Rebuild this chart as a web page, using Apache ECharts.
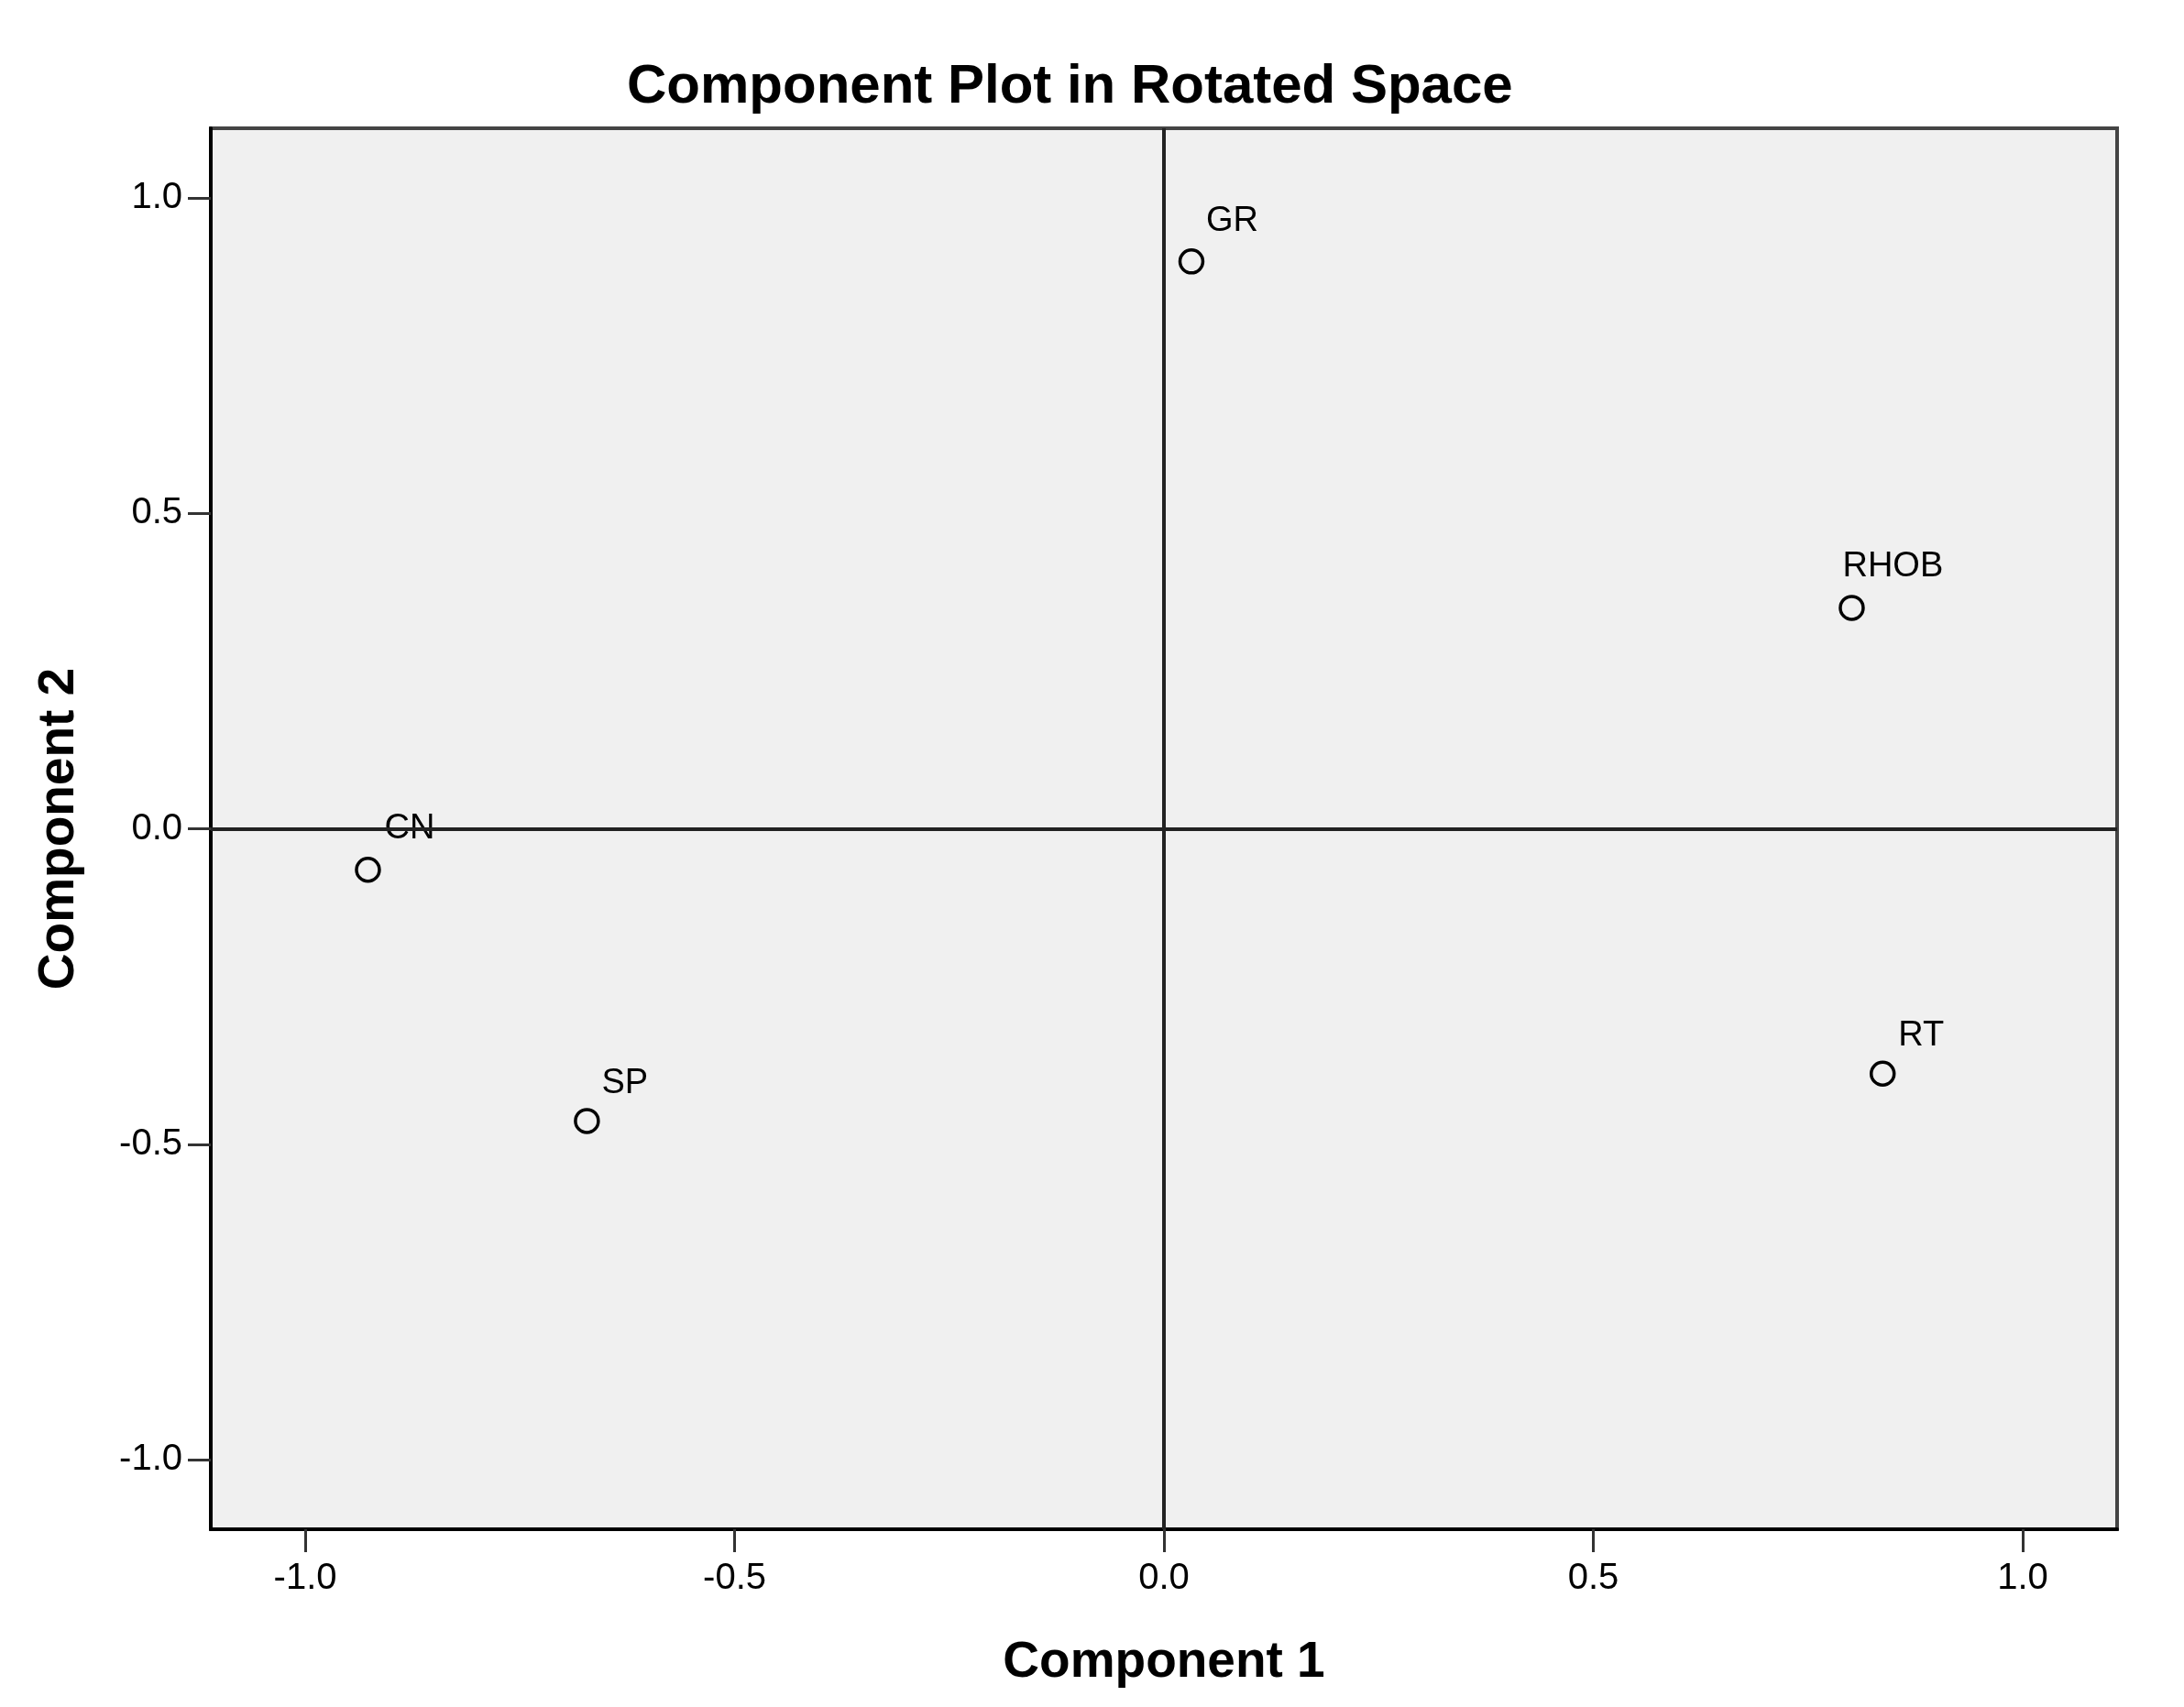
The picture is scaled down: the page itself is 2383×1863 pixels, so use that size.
<!DOCTYPE html>
<html>
<head>
<meta charset="utf-8">
<script src="https://cdn.jsdelivr.net/npm/echarts@6/dist/echarts.min.js"></script>
<style>
  html, body { margin: 0; padding: 0; background: #fff; }
  #main { width: 2383px; height: 1863px; }
</style>
</head>
<body>
<div id="main"></div>
<script>
// variables and their rotated loadings
var names = ['GR', 'RHOB', 'CN', 'SP', 'RT'];
var comp1 = [0.032, 0.801, -0.927, -0.672, 0.837];
var comp2 = [0.899, 0.350, -0.065, -0.463, -0.388];
var tickValues = [-1.0, -0.5, 0.0, 0.5, 1.0];

// label placement (RHOB sits a bit to the left in the original)
var labelOffsets = { GR: [16, -44], RHOB: [-10, -45], CN: [18, -45], SP: [16, -41], RT: [17, -41] };

var font = "'Liberation Sans', Arial, sans-serif";

var myChart = echarts.init(document.getElementById('main'));

var points = names.map(function (n, i) {
    return {
        name: n,
        value: [comp1[i], comp2[i]],
        label: { offset: labelOffsets[n] }
    };
});

var axisCommon = {
    type: 'value',
    min: -1.11,
    max: 1.11,
    nameLocation: 'middle',
    nameTextStyle: { fontFamily: font, fontSize: 55, fontWeight: 'bold', color: '#000' },
    axisLine: { show: true, onZero: false, lineStyle: { color: '#000', width: 4 } },
    axisTick: { show: true, length: 25, customValues: tickValues, lineStyle: { color: '#333', width: 3 } },
    axisLabel: {
        customValues: tickValues,
        fontFamily: font, fontSize: 40, color: '#000',
        formatter: function (v) { return v.toFixed(1); }
    },
    splitLine: { show: false }
};

var option = {
    animation: false,
    title: {
        text: 'Component Plot in Rotated Space',
        left: 679,
        top: 60,
        textStyle: { fontFamily: font, fontSize: 60, fontWeight: 'bold', color: '#000' }
    },
    grid: {
        left: 230, right: 73, top: 140, bottom: 194,
        show: true,
        backgroundColor: '#f0f0f0',
        borderColor: '#444',
        borderWidth: 4
    },
    xAxis: Object.assign({}, axisCommon, {
        name: 'Component 1',
        nameGap: 118,
        axisLabel: Object.assign({}, axisCommon.axisLabel, { margin: 34 })
    }),
    yAxis: Object.assign({}, axisCommon, {
        name: 'Component 2',
        nameGap: 138,
        axisLabel: Object.assign({}, axisCommon.axisLabel, { margin: 31 })
    }),
    series: [{
        type: 'scatter',
        symbol: 'circle',
        symbolSize: 25,
        itemStyle: { color: 'rgba(0,0,0,0)', borderColor: '#000', borderWidth: 3.5, opacity: 1 },
        label: {
            show: true,
            position: 'inside',
            align: 'left',
            verticalAlign: 'middle',
            formatter: '{b}',
            fontFamily: font,
            fontSize: 38,
            color: '#000',
            textBorderWidth: 0
        },
        emphasis: { disabled: true },
        data: points,
        markLine: {
            silent: true,
            symbol: ['none', 'none'],
            label: { show: false },
            lineStyle: { type: 'solid', color: '#222', width: 4, opacity: 1 },
            data: [{ xAxis: 0 }, { yAxis: 0 }]
        }
    }]
};

myChart.setOption(option);
</script>
</body>
</html>
